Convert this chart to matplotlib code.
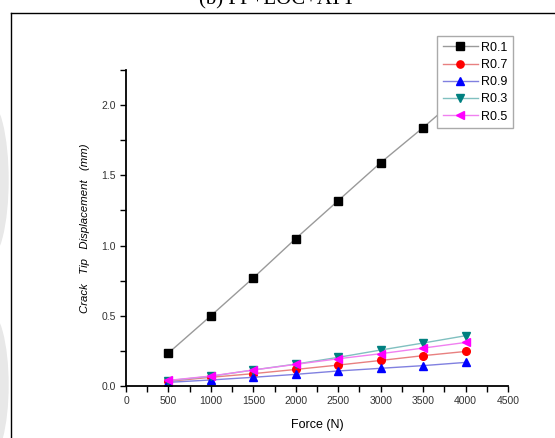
import matplotlib.pyplot as plt
from matplotlib.lines import Line2D
from matplotlib.patches import Ellipse
from matplotlib.ticker import MultipleLocator

# Applied force (N)
force = [500, 1000, 1500, 2000, 2500, 3000, 3500, 4000]

# Crack tip displacement (mm) for each ratio
r01 = [0.235, 0.50, 0.77, 1.05, 1.32, 1.59, 1.84, 2.10]
r07 = [0.033, 0.062, 0.088, 0.118, 0.149, 0.182, 0.216, 0.246]
r09 = [0.026, 0.043, 0.062, 0.083, 0.107, 0.126, 0.145, 0.168]
r03 = [0.038, 0.069, 0.114, 0.156, 0.204, 0.256, 0.306, 0.358]
r05 = [0.040, 0.071, 0.114, 0.154, 0.194, 0.230, 0.270, 0.310]

plt.rcParams["font.family"] = ["Liberation Sans", "DejaVu Sans"]

fig = plt.figure(figsize=(5.55, 4.38), dpi=100)

# Faint page decoration on the left edge (pixel units)
for cy, h in [(438 - 180, 160), (438 - 385, 150)]:
    fig.patches.append(Ellipse((-12, cy), 40, h, transform=None,
                               color="#e8e8e8", zorder=0))

# Frame around the figure panel
fig.add_artist(Line2D([11 / 555, 11 / 555], [0, 1 - 13 / 438],
                      transform=fig.transFigure, color="black", lw=1.0))
fig.add_artist(Line2D([11 / 555, 1], [1 - 13 / 438, 1 - 13 / 438],
                      transform=fig.transFigure, color="black", lw=1.0))

# Panel caption, cut off at the top
fig.text(0.5, 1.0, "(b) FP+LOC+ATT", ha="center", va="center",
         fontsize=15, family="Liberation Serif")

ax = fig.add_axes([126 / 555, 52 / 438, 382 / 555, 316 / 438])

series = [
    ("R0.1", r01, "black", "#9a9a9a", "s"),
    ("R0.7", r07, "red", "#e88080", "o"),
    ("R0.9", r09, "blue", "#8080e0", "^"),
    ("R0.3", r03, "#008080", "#80c0c0", "v"),
    ("R0.5", r05, "magenta", "#f080f0", "<"),
]

for name, vals, mcol, lcol, mk in series:
    ax.plot(force, vals, color=lcol, lw=1.0, marker=mk, markersize=5.5,
            markerfacecolor=mcol, markeredgecolor=mcol, label=name)

ax.set_xlim(0, 4500)
ax.set_ylim(0, 2.25)
ax.xaxis.set_major_locator(MultipleLocator(500))
ax.xaxis.set_minor_locator(MultipleLocator(250))
ax.yaxis.set_major_locator(MultipleLocator(0.5))
ax.yaxis.set_minor_locator(MultipleLocator(0.25))
ax.yaxis.set_major_formatter(plt.FormatStrFormatter("%.1f"))

for side in ["top", "right"]:
    ax.spines[side].set_visible(False)
for side in ["left", "bottom"]:
    ax.spines[side].set_linewidth(1.3)

ax.tick_params(which="both", direction="out", width=1.0, labelsize=7.5,
               labelcolor="#333333", length=4)

ax.set_xlabel("Force (N)", fontsize=9, labelpad=9)
ax.set_ylabel("Crack   Tip   Displacement   (mm)", fontsize=8.2,
              style="italic", labelpad=8)

# Opaque legend box; it sits over the last R0.1 point
leg = ax.legend(loc="upper left", bbox_to_anchor=(437 / 555, 1 - 36 / 438),
                bbox_transform=fig.transFigure, fontsize=9, frameon=True,
                fancybox=False, edgecolor="#aaaaaa", framealpha=1.0,
                handlelength=2.8, labelspacing=0.42, borderpad=0.45,
                handletextpad=0.3, borderaxespad=0, markerscale=0.95)
leg.get_frame().set_linewidth(1.0)
leg.set_zorder(5)

fig.savefig("out.png", dpi=100)
